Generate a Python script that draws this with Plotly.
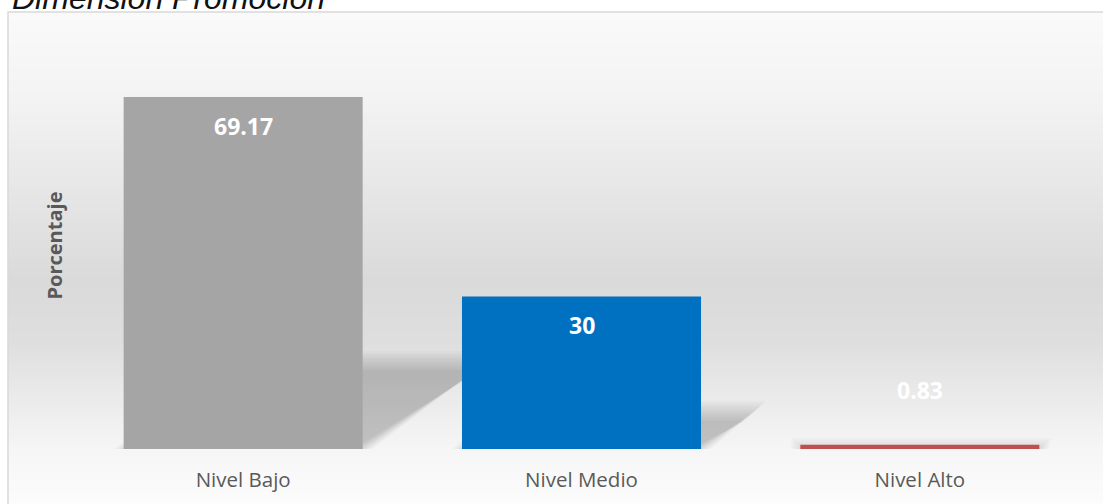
import plotly.graph_objects as go

# ---- data ----
categories = ["Nivel Bajo", "Nivel Medio", "Nivel Alto"]
values = [69.17, 30, 0.83]
value_labels = ["69.17", "30", "0.83"]
bar_colors = ["#a5a5a5", "#0070c0", "#c0504d"]

title_text = "Dimensión Promoción"
y_title = "Porcentaje"

# ---- layout geometry (pixels) ----
W, H = 1103, 504
L, R, T, B = 74, 14, 42, 55
plot_w = W - L - R
plot_h = H - T - B
Y_MAX = 80
ky = plot_h / Y_MAX                 # px per y unit
kx = plot_w / len(categories)       # px per category
bar_width = 0.7065


def px_x(px):
    return (px - L) / plot_w


def px_y(py):
    return (H - B - py) / plot_h


shapes = []

# vertical background gradient (light at the top and bottom, grey in the middle)
stops = [(12, 250), (100, 243), (200, 229), (280, 218), (340, 222),
         (400, 235), (450, 246), (504, 252)]


def gray_at(py):
    for (y0, g0), (y1, g1) in zip(stops[:-1], stops[1:]):
        if y0 <= py <= y1:
            t = (py - y0) / (y1 - y0)
            return g0 + (g1 - g0) * t
    return stops[-1][1]


step = 4
py = 12
while py < H:
    g = int(round(gray_at(py + step / 2)))
    shapes.append(dict(type="rect", xref="paper", yref="paper", layer="below",
                       x0=px_x(8), x1=px_x(W + 5), y0=px_y(min(py + step, H + 2)), y1=px_y(py),
                       fillcolor=f"rgb({g},{g},{g})", line=dict(width=0)))
    py += step

# outer frame (left and top edges)
shapes.append(dict(type="path", xref="paper", yref="paper", layer="below",
                   path=f"M {px_x(8)},{px_y(H + 5)} L {px_x(8)},{px_y(12)} L {px_x(W + 5)},{px_y(12)}",
                   line=dict(color="#d9d9d9", width=1.5)))

# soft cast shadows behind the bars, built from each bar's value
hw = bar_width / 2
for i, v in enumerate(values):
    h = 0.25 * v
    s = 1.45 * h * ky / kx
    for d in range(-10, 11, 2):
        dx, dy = d / kx, d / ky
        x0, x1 = i - hw - dx, i + hw + dx
        yb, yt = 0, h + dy
        if yt <= 0:
            continue
        path = (f"M {x0},{yb} L {x1},{yb} L {x1 + s},{yt} "
                f"L {x0 + s},{yt} Z")
        shapes.append(dict(type="path", xref="x", yref="y", layer="below",
                           path=path, fillcolor="rgba(0,0,0,0.019)",
                           line=dict(width=0)))

fig = go.Figure()
fig.add_trace(go.Bar(
    x=list(range(len(categories))), y=values, width=bar_width,
    marker=dict(color=bar_colors, line=dict(width=0)),
    hoverinfo="skip", showlegend=False,
))

annotations = []
label_shift = [-29, -29, 55]
for i, (v, lab) in enumerate(zip(values, value_labels)):
    annotations.append(dict(x=i, y=v, xref="x", yref="y", text=f"<b>{lab}</b>",
                            showarrow=False, yshift=label_shift[i], yanchor="middle",
                            font=dict(family="Open Sans", size=23, color="#ffffff")))

annotations.append(dict(x=px_x(10), y=px_y(-1.5), xref="paper", yref="paper",
                        xanchor="left", yanchor="middle", showarrow=False,
                        text=f"<i>{title_text}</i>",
                        font=dict(family="Liberation Sans", size=32, color="#111111")))

annotations.append(dict(x=px_x(54), y=px_y(245.5), xref="paper", yref="paper",
                        xanchor="center", yanchor="middle", showarrow=False,
                        textangle=-90, text=f"<b>{y_title}</b>",
                        font=dict(family="Open Sans", size=20, color="#595959")))

fig.update_layout(
    width=W, height=H,
    margin=dict(l=L, r=R, t=T, b=B, pad=0),
    paper_bgcolor="#ffffff", plot_bgcolor="rgba(0,0,0,0)",
    shapes=shapes, annotations=annotations,
    xaxis=dict(range=[-0.5, len(categories) - 0.5], tickvals=list(range(len(categories))),
               ticktext=categories, showgrid=False, zeroline=False, showline=False,
               ticks="", ticklabelstandoff=16,
               tickfont=dict(family="Open Sans", size=20.5, color="#595959"),
               fixedrange=True),
    yaxis=dict(range=[0, Y_MAX], visible=False, fixedrange=True),
)

fig.write_html("out.html", include_plotlyjs=True, config={"displayModeBar": False})
